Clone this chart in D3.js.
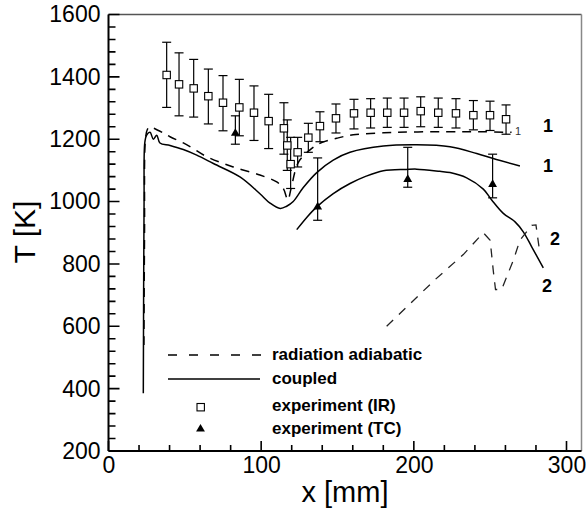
<!DOCTYPE html>
<html>
<head>
<meta charset="utf-8">
<script src="https://cdn.jsdelivr.net/npm/d3@7"></script>
<style>
  body { margin: 0; background: #fff; }
  svg { display: block; }
</style>
</head>
<body>
<div id="chart"></div>
<script>
// curves, [x mm, T K]
var coupled1 = [[22.8, 385], [23.3, 1000], [23.8, 1190], [25, 1213], [27.2, 1222], [29.4, 1200],
  [31.6, 1213], [33.7, 1188], [40.3, 1180], [49, 1167], [57.8, 1149], [68.7, 1122], [86.1, 1079],
  [99.2, 1025], [105.8, 995], [112.5, 978], [116.7, 985], [121, 1000], [127.6, 1045], [136.4, 1093],
  [147.2, 1133], [158.2, 1158], [180, 1178], [201.9, 1182], [223.7, 1176], [241.2, 1154],
  [252, 1138], [269.5, 1114]];
var coupled2 = [[123.3, 910], [130, 950], [136.4, 983], [147, 1025], [158.2, 1058], [168, 1080],
  [180, 1099], [195, 1103], [201.9, 1104], [217, 1097], [223.7, 1093], [234.6, 1076], [245.5, 1040],
  [251, 1005], [258.6, 962], [266.3, 935], [271.7, 903], [277.2, 855], [284.8, 787]];
var adiabatic1 = [[23.2, 540], [23.6, 900], [24.2, 1200], [25.5, 1232], [27.2, 1240], [29.4, 1236],
  [35.9, 1220], [40.3, 1208], [49, 1188], [55.5, 1170], [64.3, 1144], [81.7, 1111], [99.2, 1085],
  [110.2, 1063], [114.5, 1042], [117.5, 1005], [119.5, 1040], [124.3, 1125], [132, 1166],
  [138.5, 1187], [149.5, 1203], [160.3, 1214], [188.8, 1222], [221.5, 1224], [243.3, 1224],
  [264, 1222]];
var adiabatic2 = [[182.2, 600], [214, 750], [232.4, 830], [245.5, 900], [250, 876], [252, 780],
  [253.5, 718], [257.5, 718], [265.2, 812], [269.5, 876], [277.2, 924], [280, 925], [282.6, 833]];

// experiment (IR): x, T, low, high
var irX  = [38.1, 46.2, 55.8, 65.4, 75.0, 85.7, 95.3, 104.9, 114.9, 117.1, 119.3, 123.9, 130.9,
  138.5, 149.0, 160.8, 171.7, 182.6, 193.6, 204.5, 216.0, 227.6, 239.0, 249.9, 260.4];
var irT  = [1406, 1376, 1363, 1338, 1317, 1302, 1285, 1258, 1235, 1180, 1120, 1158, 1205,
  1242, 1267, 1283, 1285, 1285, 1285, 1290, 1285, 1283, 1277, 1277, 1264];
var irLo = [1302, 1275, 1271, 1249, 1227, 1211, 1196, 1170, 1152, 1100, 1042, 1111, 1158,
  1192, 1220, 1233, 1236, 1238, 1238, 1240, 1238, 1236, 1230, 1228, 1216];
var irHi = [1511, 1477, 1456, 1425, 1404, 1392, 1371, 1344, 1317, 1262, 1206, 1206, 1251,
  1288, 1313, 1328, 1330, 1332, 1332, 1336, 1332, 1330, 1324, 1322, 1310];

// experiment (TC)
var tcX  = [83.1, 137.0, 196.0, 251.6];
var tcT  = [1219, 983, 1071, 1055];
var tcLo = [1184, 940, 1046, 1012];
var tcHi = [1275, 1140, 1174, 1152];

var xMajor = [0, 100, 200, 300];
var yMajor = [200, 400, 600, 800, 1000, 1200, 1400, 1600];
var xMinor = d3.range(0, 301, 20);
var yMinor = d3.range(200, 1601, 40);

var legendLabels = ["radiation adiabatic", "coupled", "experiment (IR)", "experiment (TC)"];

var width = 586, height = 512;
var pLeft = 108.5, pRight = 581.5, pTop = 14.5, pBottom = 451;

var svg = d3.select("#chart").append("svg")
    .attr("width", width)
    .attr("height", height);

var x = d3.scaleLinear().domain([0, 300]).range([pLeft, 566.5]);
var y = d3.scaleLinear().domain([200, 1600]).range([pBottom, pTop]);

// frame (top and right are grey)
svg.append("line")
    .attr("x1", pLeft).attr("x2", pRight).attr("y1", pTop).attr("y2", pTop)
    .attr("stroke", "#555").attr("stroke-width", 1.5);
svg.append("line")
    .attr("x1", pRight).attr("x2", pRight).attr("y1", pTop).attr("y2", pBottom)
    .attr("stroke", "#888").attr("stroke-width", 1.5);

// ticks, pointing inward
var tickPath = d3.path();
xMinor.forEach(function(d) {
  var len = xMajor.indexOf(d) >= 0 ? 10 : 6;
  tickPath.moveTo(x(d), pBottom);
  tickPath.lineTo(x(d), pBottom - len);
});
yMinor.forEach(function(d) {
  var len = yMajor.indexOf(d) >= 0 ? 11 : 7;
  tickPath.moveTo(pLeft, y(d));
  tickPath.lineTo(pLeft + len, y(d));
});
svg.append("path")
    .attr("d", tickPath.toString())
    .attr("fill", "none")
    .attr("stroke", "#000")
    .attr("stroke-width", 1.6);

// tick labels
var fmt = d3.format("d");
var xAxis = svg.append("g")
    .attr("transform", "translate(0," + pBottom + ")")
    .call(d3.axisBottom(x).tickValues(xMajor).tickFormat(fmt).tickSize(0).tickPadding(6));
var yAxis = svg.append("g")
    .attr("transform", "translate(" + pLeft + ",0)")
    .call(d3.axisLeft(y).tickValues(yMajor).tickFormat(fmt).tickSize(0).tickPadding(8));
xAxis.select(".domain").remove();
yAxis.select(".domain").remove();
svg.selectAll(".tick text")
    .attr("font-family", "Liberation Sans, Arial, sans-serif")
    .attr("font-size", 23)
    .attr("fill", "#000");

// axis lines
svg.append("line")
    .attr("x1", pLeft).attr("x2", pRight).attr("y1", pBottom).attr("y2", pBottom)
    .attr("stroke", "#000").attr("stroke-width", 2);
svg.append("line")
    .attr("x1", pLeft).attr("x2", pLeft).attr("y1", pTop).attr("y2", pBottom)
    .attr("stroke", "#000").attr("stroke-width", 2);

// axis titles
svg.append("text")
    .attr("transform", "translate(35,232) rotate(-90)")
    .attr("text-anchor", "middle")
    .attr("font-family", "Liberation Sans, Arial, sans-serif")
    .attr("font-size", 30)
    .text("T [K]");
svg.append("text")
    .attr("x", 345).attr("y", 502)
    .attr("text-anchor", "middle")
    .attr("font-family", "Liberation Sans, Arial, sans-serif")
    .attr("font-size", 29)
    .text("x [mm]");

// curves
var line = d3.line()
    .x(function(d) { return x(d[0]); })
    .y(function(d) { return y(d[1]); })
    .curve(d3.curveCatmullRom.alpha(0.5));
var lineStraight = d3.line()
    .x(function(d) { return x(d[0]); })
    .y(function(d) { return y(d[1]); });

[coupled1, coupled2].forEach(function(c) {
  svg.append("path").attr("d", line(c))
      .attr("fill", "none").attr("stroke", "#000").attr("stroke-width", 1.5);
});
svg.append("path").attr("d", line(adiabatic1))
    .attr("fill", "none").attr("stroke", "#000").attr("stroke-width", 1.5)
    .attr("stroke-dasharray", "9,7");
svg.append("path").attr("d", lineStraight(adiabatic2))
    .attr("fill", "none").attr("stroke", "#222").attr("stroke-width", 1.3)
    .attr("stroke-dasharray", "9,8");

// error bars
function errorBars(xs, lo, hi) {
  var g = svg.append("g").attr("stroke", "#000").attr("stroke-width", 1.2);
  xs.forEach(function(v, i) {
    var px = x(v);
    g.append("line").attr("x1", px).attr("x2", px).attr("y1", y(lo[i])).attr("y2", y(hi[i]));
    g.append("line").attr("x1", px - 4.5).attr("x2", px + 4.5).attr("y1", y(lo[i])).attr("y2", y(lo[i]));
    g.append("line").attr("x1", px - 4.5).attr("x2", px + 4.5).attr("y1", y(hi[i])).attr("y2", y(hi[i]));
  });
}
errorBars(irX, irLo, irHi);
errorBars(tcX, tcLo, tcHi);

// markers
svg.selectAll(".ir").data(irX).enter().append("rect")
    .attr("x", function(d) { return x(d) - 3.7; })
    .attr("y", function(d, i) { return y(irT[i]) - 3.7; })
    .attr("width", 7.4).attr("height", 7.4)
    .attr("fill", "#fff").attr("stroke", "#000").attr("stroke-width", 1.1);

var tri = d3.symbol().type(d3.symbolTriangle).size(34);
svg.selectAll(".tc").data(tcX).enter().append("path")
    .attr("d", tri)
    .attr("transform", function(d, i) { return "translate(" + x(d) + "," + y(tcT[i]) + ")"; })
    .attr("fill", "#000");

// curve labels
var curveLabels = [{t: "1", x: 548, y: 132}, {t: "1", x: 548, y: 172},
                   {t: "2", x: 555, y: 245}, {t: "2", x: 547, y: 292}];
curveLabels.forEach(function(l) {
  svg.append("text")
      .attr("x", l.x).attr("y", l.y)
      .attr("text-anchor", "middle")
      .attr("font-family", "Liberation Sans, Arial, sans-serif")
      .attr("font-weight", "bold")
      .attr("font-size", 18)
      .text(l.t);
});
svg.append("text")
    .attr("x", 518).attr("y", 135)
    .attr("text-anchor", "middle")
    .attr("font-family", "Liberation Sans, Arial, sans-serif")
    .attr("font-size", 11)
    .attr("fill", "#333")
    .text("1");

// legend
svg.append("line")
    .attr("x1", 168).attr("x2", 262).attr("y1", 355).attr("y2", 355)
    .attr("stroke", "#000").attr("stroke-width", 1.5).attr("stroke-dasharray", "9,12");
svg.append("line")
    .attr("x1", 168).attr("x2", 260).attr("y1", 379).attr("y2", 379)
    .attr("stroke", "#000").attr("stroke-width", 1.5);
svg.append("rect")
    .attr("x", 197).attr("y", 403.5).attr("width", 7.4).attr("height", 7.4)
    .attr("fill", "#fff").attr("stroke", "#000").attr("stroke-width", 1.1);
svg.append("path").attr("d", tri)
    .attr("transform", "translate(200.5,429)").attr("fill", "#000");

var legendY = [360, 384, 411, 434];
legendLabels.forEach(function(t, i) {
  svg.append("text")
      .attr("x", 272).attr("y", legendY[i])
      .attr("font-family", "Liberation Sans, Arial, sans-serif")
      .attr("font-weight", "bold")
      .attr("font-size", 17)
      .text(t);
});
</script>
</body>
</html>
